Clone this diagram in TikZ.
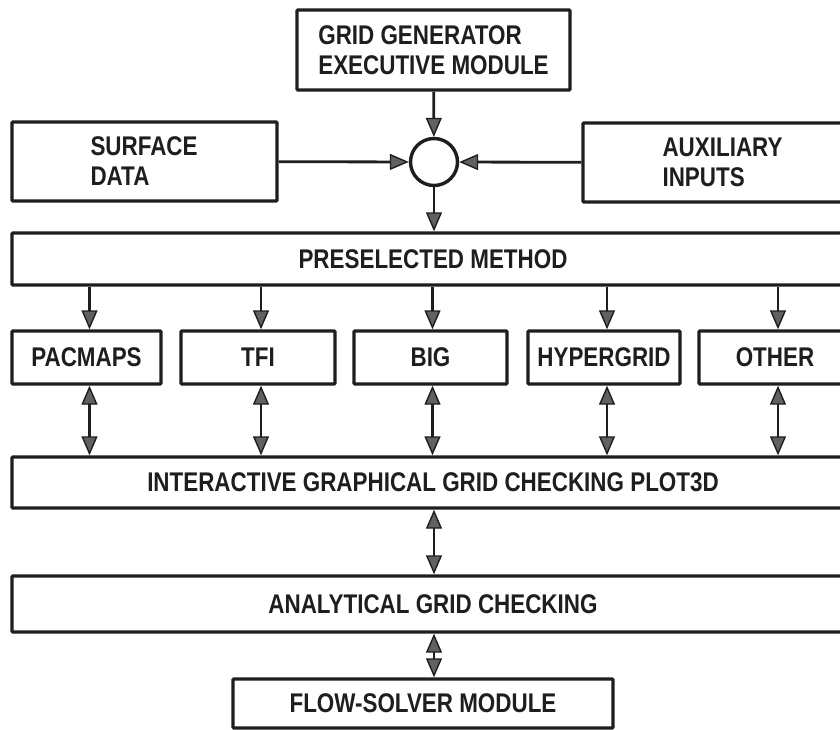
\documentclass[tikz,border=0pt]{standalone}
\usepackage{fontspec}
\newfontfamily\condfont[FakeStretch=0.83,BoldFont={Liberation Sans Bold},BoldFeatures={FakeStretch=0.83}]{Liberation Sans}
\usetikzlibrary{arrows.meta}
\newcommand\lblfont{\condfont\bfseries\fontsize{27}{30}\selectfont}
\definecolor{ink}{HTML}{1E1E1E}
\begin{document}
\begin{tikzpicture}[x=1pt,y=-1pt,
  box/.style={draw=ink, line width=3.4pt, inner sep=0pt, rounded corners=1pt, font=\lblfont, text=ink},
  tip/.tip={Triangle[length=19pt,width=16pt,fill=black!62,line width=1.4pt]},
  conn/.style={line width=2.8pt, draw=ink, -tip},
  bi/.style={line width=2.8pt, draw=ink, tip-tip}]
\clip (0,0) rectangle (840,730);
\fill[white] (0,0) rectangle (840,730);
% top
\node[box, minimum width=273pt, minimum height=80pt, align=left] (exec) at (433.5,50) {GRID GENERATOR\\EXECUTIVE MODULE};
\node[draw=ink, line width=3.4pt, circle, minimum size=47pt, inner sep=0pt] (join) at (434,162) {};
\node[box, minimum width=265pt, minimum height=79pt, align=left] (surf) at (144.5,161.5) {};
\node[font=\lblfont, text=ink, align=left, anchor=west] (surft) at (87,161.5) {SURFACE\\DATA};
\node[box, minimum width=275pt, minimum height=79pt] (aux) at (720.5,162.5) {};
\node[font=\lblfont, text=ink, align=left, anchor=west] (auxt) at (659,162.5) {AUXILIARY\\INPUTS};
\draw[conn] (exec) -- (join);
\draw[conn] (surf) -- (join);
\draw[conn] (aux) -- (join);
% preselected
\node[box, minimum width=842pt, minimum height=52pt] (pre) at (433,259) {PRESELECTED METHOD};
\draw[conn] (join) -- (join |- pre.north);
% methods
\node[box, minimum width=149pt, minimum height=53pt] (m1) at (86.5,357.5) {PACMAPS};
\node[box, minimum width=154pt, minimum height=53pt] (m2) at (258,357.5) {TFI};
\node[box, minimum width=153pt, minimum height=53pt] (m3) at (430.5,357.5) {BIG};
\node[box, minimum width=152pt, minimum height=53pt] (m4) at (604,357.5) {HYPERGRID};
\node[box, minimum width=152pt, minimum height=53pt] (m5) at (775,357.5) {OTHER};
% interactive
\node[box, minimum width=842pt, minimum height=51pt] (inter) at (433,482.5) {INTERACTIVE GRAPHICAL GRID CHECKING PLOT3D};
\foreach \m/\dx in {m1/3,m2/3,m3/2,m4/3,m5/3}{
  \draw[conn] ([xshift=\dx pt]pre.south -| \m) -- ([xshift=\dx pt]\m.north);
  \draw[bi] ([xshift=\dx pt]\m.south) -- ([xshift=\dx pt]inter.north -| \m);
}
% analytical
\node[box, minimum width=842pt, minimum height=56pt] (ana) at (433,604) {ANALYTICAL GRID CHECKING};
\draw[bi] (inter.south -| join) -- (ana.north -| join);
% flow solver
\node[box, minimum width=380pt, minimum height=49pt] (flow) at (423,703.5) {FLOW-SOLVER MODULE};
\draw[bi] (ana.south -| join) -- (flow.north -| join);
\end{tikzpicture}
\end{document}
